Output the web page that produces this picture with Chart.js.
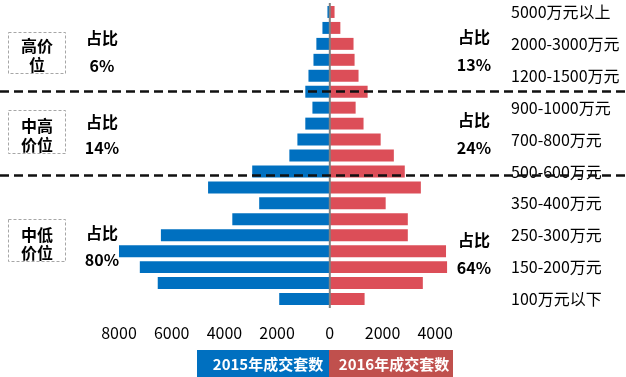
<!DOCTYPE html>
<html>
<head>
<meta charset="utf-8">
<script src="https://cdn.jsdelivr.net/npm/chart.js@4.4.1/dist/chart.umd.min.js"></script>
<style>
  body { margin: 0; background: #fff; }
</style>
</head>
<body>
<canvas id="pyramidChart" width="626" height="377"></canvas>
<script>
// price bands, top to bottom (only every other one is labelled on the chart)
var categories = ['5000万元以上', '3000-5000万元', '2000-3000万元', '1500-2000万元', '1200-1500万元', '1000-1200万元',
  '900-1000万元', '800-900万元', '700-800万元', '600-700万元', '500-600万元',
  '400-500万元', '350-400万元', '300-350万元', '250-300万元', '200-250万元', '150-200万元', '100-150万元', '100万元以下'];
var deals2015 = [90, 280, 510, 620, 810, 930, 660, 930, 1230, 1535, 2945, 4620, 2680, 3700, 6410, 8050, 7210, 6530, 1920];
var deals2016 = [180, 400, 900, 940, 1090, 1435, 980, 1280, 1930, 2430, 2845, 3455, 2120, 2960, 2960, 4410, 4450, 3530, 1320];
var xTicks = [-8000, -6000, -4000, -2000, 0, 2000, 4000];
var seriesNames = ['2015年成交套数', '2016年成交套数'];

// price groups and their share of deals
var groupNames = [['高价', '位'], ['中高', '价位'], ['中低', '价位']];
var share2015 = ['6%', '14%', '80%'];
var share2016 = ['13%', '24%', '64%'];

var FONT = "'Noto Sans CJK SC', 'Noto Sans', sans-serif";
Chart.defaults.font.family = FONT;
Chart.defaults.color = '#000';

var blue = '#0070C0';
var red = '#DC4E58';
var legendRed = '#C0504D';

// dashed dividers, box outlines, share labels and the legend strip
var decorations = {
  id: 'decorations',
  afterDatasetsDraw: function (chart) {
    var ctx = chart.ctx;
    var x0 = chart.scales.x.getPixelForValue(0);
    var y = chart.scales.y;

    // centre axis
    ctx.save();
    ctx.strokeStyle = '#808080';
    ctx.lineWidth = 2;
    ctx.beginPath();
    ctx.moveTo(x0, chart.chartArea.top - 1);
    ctx.lineTo(x0, chart.chartArea.bottom + 1);
    ctx.stroke();

    // group dividers
    ctx.strokeStyle = '#111';
    ctx.lineWidth = 2.5;
    ctx.setLineDash([9, 5]);
    [4.95, 10.2].forEach(function (v) {
      var py = Math.round(y.getPixelForValue(v)) + 0.5;
      ctx.beginPath();
      ctx.moveTo(0, py);
      ctx.lineTo(chart.width, py);
      ctx.stroke();
    });
    ctx.restore();
  },
  afterDraw: function (chart) {
    var ctx = chart.ctx;
    var boxes = [[32, 73], [110, 153], [219, 261]];
    var nameY = [[46, 65], [126, 145], [235, 253]];
    var leftY = [[38, 66], [122, 148], [233, 260]];
    var rightY = [[37, 65], [120, 148], [240, 268]];

    ctx.save();
    ctx.textAlign = 'center';
    ctx.textBaseline = 'middle';
    groupNames.forEach(function (lines, i) {
      ctx.strokeStyle = '#A6A6A6';
      ctx.lineWidth = 1;
      ctx.setLineDash([3, 2]);
      ctx.strokeRect(8.5, boxes[i][0] + 0.5, 57, boxes[i][1] - boxes[i][0]);
      ctx.setLineDash([]);

      ctx.fillStyle = '#000';
      ctx.font = 'bold 16px ' + FONT;
      ctx.fillText(lines[0], 37, nameY[i][0]);
      ctx.fillText(lines[1], 37, nameY[i][1]);

      ctx.fillText('占比', 102, leftY[i][0]);
      ctx.fillText(share2015[i], 102, leftY[i][1]);
      ctx.fillText('占比', 474, rightY[i][0]);
      ctx.fillText(share2016[i], 474, rightY[i][1]);
    });

    // legend strip
    ctx.fillStyle = blue;
    ctx.fillRect(197, 350, 132, 27);
    ctx.fillStyle = legendRed;
    ctx.fillRect(329, 350, 124, 27);
    ctx.fillStyle = '#fff';
    ctx.font = 'bold 15px ' + FONT;
    ctx.fillText(seriesNames[0], 268, 364);
    ctx.fillText(seriesNames[1], 394, 364);
    ctx.restore();
  }
};

var pctx = document.getElementById('pyramidChart').getContext('2d');
var pyramidChart = new Chart(pctx, {
  type: 'bar',
  data: {
    labels: categories,
    datasets: [{
      label: seriesNames[0],
      data: deals2015.map(function (v) { return -v; }),
      backgroundColor: blue,
      barPercentage: 0.75,
      categoryPercentage: 1
    }, {
      label: seriesNames[1],
      data: deals2016,
      backgroundColor: red,
      barPercentage: 0.75,
      categoryPercentage: 1
    }]
  },
  options: {
    indexAxis: 'y',
    responsive: false,
    animation: false,
    layout: {
      padding: { left: 119, top: 4, right: 0, bottom: 0 }
    },
    plugins: {
      legend: { display: false },
      tooltip: { enabled: false }
    },
    scales: {
      x: {
        stacked: true,
        min: -8000,
        max: 6800,
        grid: { display: false, drawTicks: false },
        border: { display: false },
        afterBuildTicks: function (scale) {
          scale.ticks = xTicks.map(function (v) { return { value: v }; });
        },
        afterFit: function (scale) {
          scale.height = 70;
          scale.paddingLeft = 0;
          scale.paddingRight = 0;
        },
        ticks: {
          padding: 16,
          font: { size: 16 },
          callback: function (value) { return Math.abs(value); }
        }
      },
      y: {
        stacked: true,
        position: 'right',
        grid: { display: false, drawTicks: false },
        border: { display: false },
        afterFit: function (scale) {
          scale.width = 117;
          scale.paddingTop = 0;
          scale.paddingBottom = 0;
        },
        ticks: {
          padding: 2,
          autoSkip: false,
          font: { size: 16 },
          callback: function (value, index) {
            return index % 2 === 0 ? categories[index] : '';
          }
        }
      }
    }
  },
  plugins: [decorations]
});
</script>
</body>
</html>
